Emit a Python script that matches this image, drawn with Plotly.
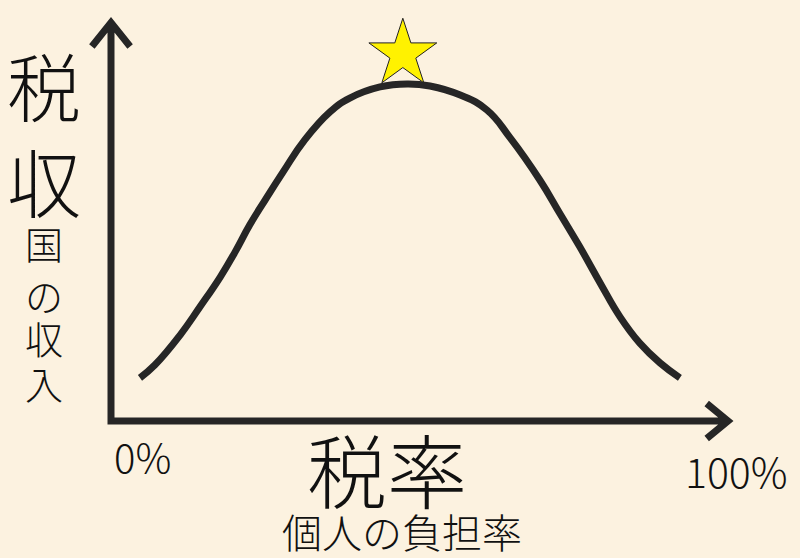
import plotly.graph_objects as go

# Data: tax rate (%) vs tax revenue (index, peak = 100)
tax_rate = [4.7, 7.1, 11.2, 14.4, 17.7, 20.1, 22.5, 25.0, 27.9, 31.4, 35.5, 38.7, 43.6,
            48.0, 51.7, 56.6, 60.9, 64.7, 69.5, 72.8, 76.0, 79.3, 82.5, 85.7, 89.0, 92.2]
revenue = [12.8, 16.6, 25.5, 33.8, 42.7, 50.1, 58.2, 65.6, 73.9, 83.4, 91.7, 95.8, 99.1,
           100.0, 99.4, 96.7, 92.3, 84.0, 71.5, 61.4, 51.6, 40.9, 30.9, 23.1, 17.2, 12.8]
star_x = [47.3]
star_y = [108.9]
tick_labels = ["0%", "100%"]

W, H = 800, 558
X_RANGE = [-17.99, 111.67]
Y_RANGE = [-40.65, 124.9]
Y_TOP = 118.2   # arrow tip of vertical axis
X_END = 100.0   # arrow tip of horizontal axis

BG = "#FCF2E0"
INK = "#262626"
FONT = "Noto Sans CJK JP"

fig = go.Figure()
fig.add_trace(go.Scatter(x=tax_rate, y=revenue, mode="lines",
                         line=dict(color=INK, width=7, shape="spline", smoothing=1.3),
                         hoverinfo="skip", showlegend=False))
fig.add_trace(go.Scatter(x=star_x, y=star_y, mode="markers",
                         marker=dict(symbol="star", size=51, color="#FFF200",
                                     line=dict(color="#222222", width=1)),
                         hoverinfo="skip", showlegend=False))

axis_path = (f"M {-3.1},{Y_TOP-7.1} L 0,{Y_TOP} L 3.1,{Y_TOP-7.1} "
             f"M 0,{Y_TOP} L 0,0 L {X_END},0 "
             f"M {X_END-3.45},5.2 L {X_END},0 L {X_END-3.45},-5.2")
fig.add_shape(type="path", path=axis_path, xref="x", yref="y",
              line=dict(color=INK, width=7), layer="above")


def ann(text, px, py, size, weight=300):
    fig.add_annotation(text=text, x=px / W, y=1 - py / H, xref="paper", yref="paper",
                       showarrow=False, xanchor="center", yanchor="middle",
                       font=dict(family=FONT, size=size, color="#111111", weight=weight))


ann("税", 44, 84, 74)
ann("収", 44, 180, 74)
for ch, py in zip("国の収入", [242, 294, 337, 382]):
    ann(ch, 44, py, 38)
ann("税率", 387, 467, 80)
ann("個人の負担率", 402, 531, 40)
ann(tick_labels[0], 142, 456, 40)
ann(tick_labels[1], 736, 470, 41)

fig.update_layout(width=W, height=H, margin=dict(l=0, r=0, t=0, b=0),
                  paper_bgcolor=BG, plot_bgcolor=BG,
                  xaxis=dict(range=X_RANGE, visible=False, fixedrange=True),
                  yaxis=dict(range=Y_RANGE, visible=False, fixedrange=True))

fig.write_html("out.html", config={"displayModeBar": False},
               post_script=f"document.body.style.margin='0';document.body.style.background='{BG}';")
